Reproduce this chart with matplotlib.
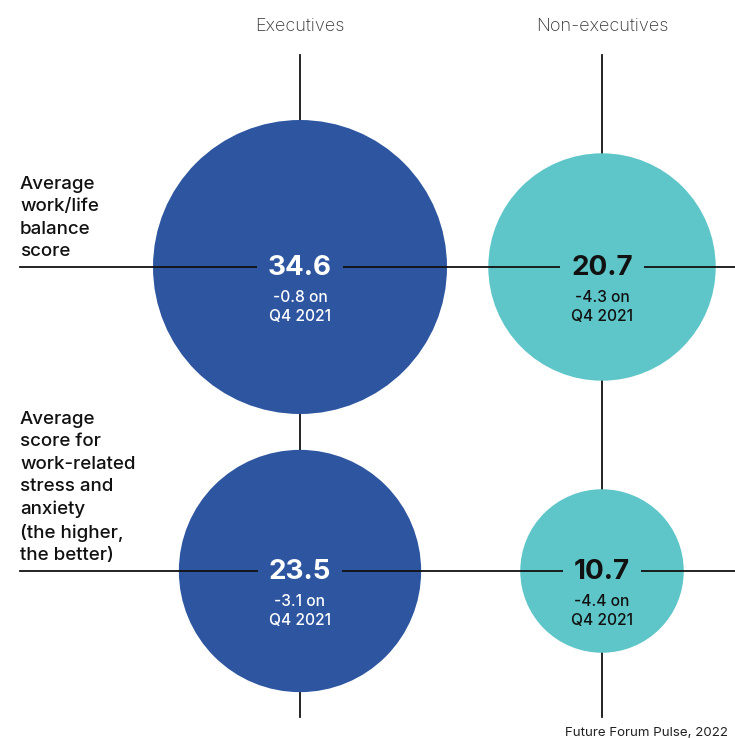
import numpy as np
import matplotlib
matplotlib.use("Agg")
import matplotlib.pyplot as plt
from matplotlib.patches import Circle

plt.rcParams['font.family'] = ['Inter', 'DejaVu Sans']

groups = ["Executives", "Non-executives"]
metrics = ["Average\nwork/life\nbalance\nscore",
           "Average\nscore for\nwork-related\nstress and\nanxiety\n(the higher,\nthe better)"]
# values[metric][group]
values = [[34.6, 20.7],
          [23.5, 10.7]]
changes = [["-0.8", "-4.3"],
           ["-3.1", "-4.4"]]
source = "Future Forum Pulse, 2022"

colors = ["#2E56A0", "#5EC5C8"]
text_colors = ["white", "#111111"]

# layout in pixel units
col_x = [300, 602]
row_y = [267, 571]
r_max = 147
v_max = 34.6

fig = plt.figure(figsize=(7.35, 7.38), dpi=100)
ax = fig.add_axes([0, 0, 1, 1])
ax.set_xlim(0, 735)
ax.set_ylim(738, 0)
ax.set_aspect('equal')
ax.axis('off')

for j, x in enumerate(col_x):
    ax.plot([x, x], [55, 717], color="#111111", lw=1.3, zorder=1)
    ax.text(x, 26, groups[j], ha='center', va='center', fontsize=13,
            color="#333333", fontweight='light')

for i, y in enumerate(row_y):
    ax.plot([20, 735], [y, y], color="#111111", lw=1.3, zorder=3)
    ax.text(20, y - 7, metrics[i], ha='left', va='bottom', fontsize=13.5,
            color="#111111", fontweight='medium', linespacing=1.41)
    for j, x in enumerate(col_x):
        v = values[i][j]
        r = r_max * np.sqrt(v / v_max)
        ax.add_patch(Circle((x, y), r, facecolor=colors[j], edgecolor='none', zorder=2))
        ax.text(x, y + 1, f"{v:.1f}", ha='center', va='center', fontsize=20,
                fontweight='bold', color=text_colors[j], zorder=4,
                bbox=dict(boxstyle='square,pad=0.4', facecolor=colors[j], edgecolor='none'))
        ax.text(x, y + 23, f"{changes[i][j]} on\nQ4 2021", ha='center', va='top',
                fontsize=11.2, color=text_colors[j], fontweight='medium',
                linespacing=1.34, zorder=4)

ax.text(728, 733, source, ha='right', va='center', fontsize=9.6, color="#222222")

plt.savefig("out.png", dpi=100)
